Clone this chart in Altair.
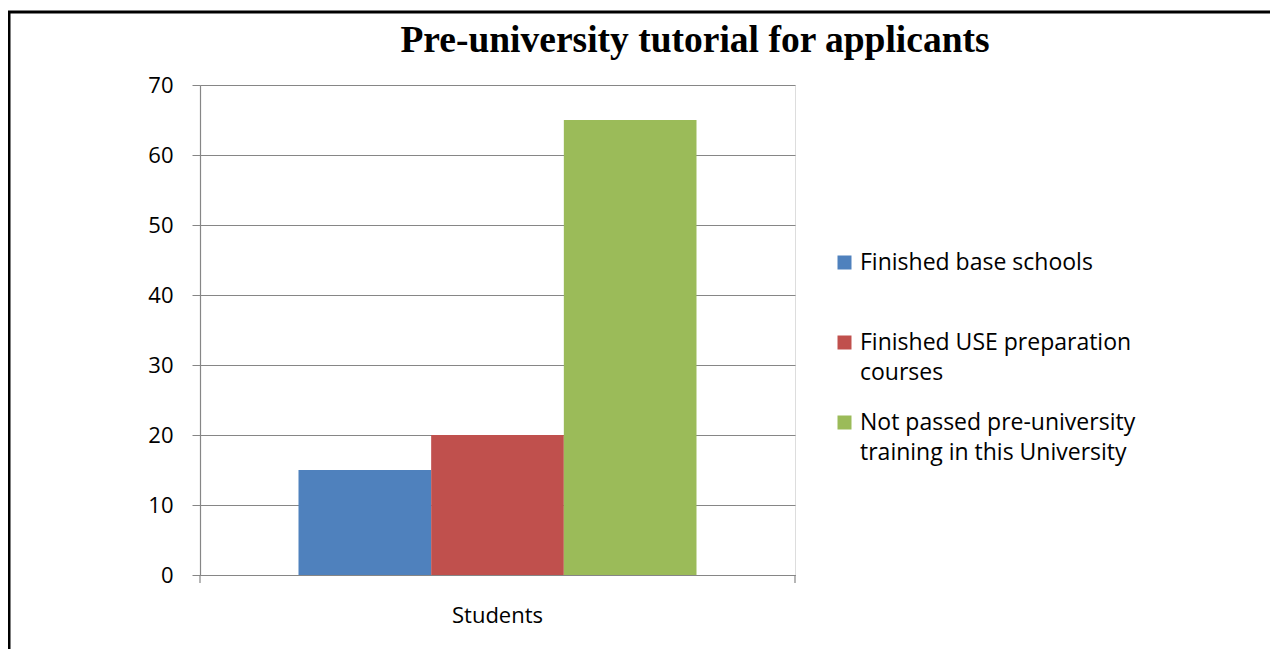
import altair as alt
import pandas as pd

categories = ["Students"]
series = [
    "Finished base schools",
    "Finished USE preparation courses",
    "Not passed pre-university training in this University",
]
values = [15, 20, 65]
colors = ["#4F81BD", "#C0504D", "#9BBB59"]
wrapped = {
    "Finished USE preparation courses": ["Finished USE preparation", "courses"],
    "Not passed pre-university training in this University": ["Not passed pre-university", "training in this University"],
}
title_text = "Pre-university tutorial for applicants"
y_ticks = [0, 10, 20, 30, 40, 50, 60, 70]

df = pd.DataFrame({
    "category": categories * len(series),
    "series": series,
    "value": values,
})

label_expr = ""
for k, v in wrapped.items():
    arr = "[" + ",".join("'" + s + "'" for s in v) + "]"
    label_expr += f"datum.label == '{k}' ? {arr} : "
label_expr += "datum.label"

FONT = "Open Sans"
GRAY = "#868686"
W, H = 595, 490

bars = alt.Chart(df).mark_bar().encode(
    x=alt.X("category:N", title=None,
            scale=alt.Scale(paddingInner=0, paddingOuter=0.2475),
            axis=alt.Axis(ticks=False, labelAngle=0, labelPadding=30, labelFontSize=22,
                          labelFont=FONT, labelColor="#000000", domainColor=GRAY,
                          domainWidth=1.2, grid=False)),
    xOffset=alt.XOffset("series:N", sort=series, scale=alt.Scale(paddingInner=0, paddingOuter=0)),
    y=alt.Y("value:Q", title=None,
            scale=alt.Scale(domain=[0, 70], nice=False),
            axis=alt.Axis(values=y_ticks, tickSize=8, tickColor=GRAY, domainColor=GRAY,
                          domainWidth=1.2, gridColor=GRAY, gridWidth=1.2,
                          labelFont=FONT, labelFontSize=22, labelColor="#000000",
                          labelPadding=19)),
    color=alt.Color("series:N", sort=series, title=None,
                    scale=alt.Scale(domain=series, range=colors),
                    legend=alt.Legend(orient="none", legendX=633, legendY=166,
                                      symbolType="square", symbolSize=196,
                                      symbolStrokeWidth=0, labelFont=FONT,
                                      labelFontSize=23, labelColor="#000000",
                                      labelOffset=4, labelExpr=label_expr,
                                      labelLimit=400, rowPadding=26, gridAlign="all",
                                      padding=0)),
)

xticks = alt.Chart(pd.DataFrame({"pos": [0, W]})).mark_rule(color=GRAY, strokeWidth=1.2).encode(
    x=alt.X("pos:Q", scale=None),
    y=alt.value(H), y2=alt.value(H + 8),
)

border = alt.Chart(pd.DataFrame({"a": [0]})).mark_rect(
    fill=None, stroke="#000000", strokeWidth=3
).encode(
    x=alt.value(-191), x2=alt.value(1100),
    y=alt.value(-73), y2=alt.value(600),
)

title = alt.Chart(pd.DataFrame({"t": [title_text]})).mark_text(
    font="Liberation Serif", fontSize=37.5, fontWeight="bold", color="#000000",
    align="center", baseline="alphabetic",
).encode(text="t:N", x=alt.value(495), y=alt.value(-33))

chart = alt.layer(border, bars, xticks, title).properties(
    width=W, height=H,
    autosize=alt.AutoSizeParams(type="none"),
    padding={"left": 192, "top": 77, "right": 475, "bottom": 74},
).configure_view(stroke=None).configure_axis(domainCap="butt").configure(
    style={"guide-label": {"lineHeight": 30}}
)

chart.save("out.html", embed_options={"renderer": "svg", "actions": False})
